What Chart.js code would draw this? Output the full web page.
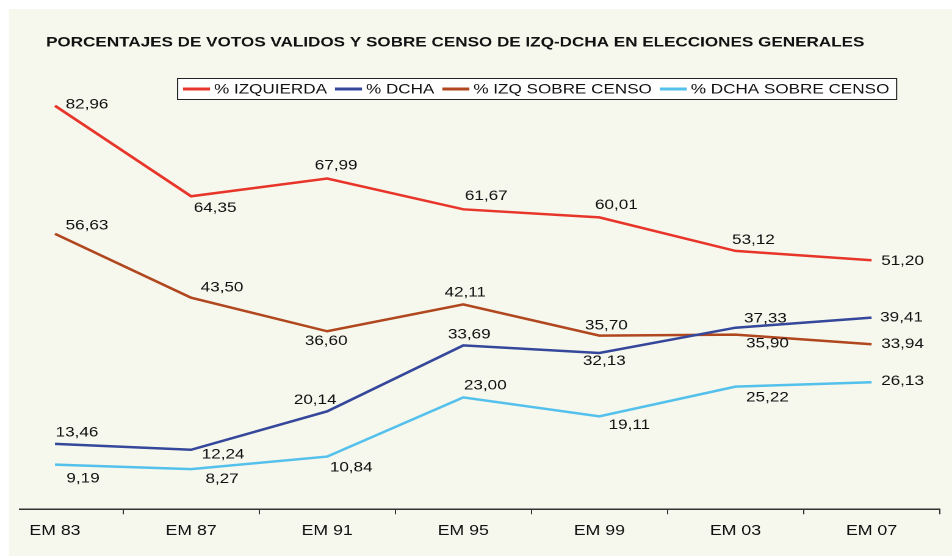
<!DOCTYPE html>
<html>
<head>
<meta charset="utf-8">
<script src="https://cdn.jsdelivr.net/npm/chart.js@4.4.0/dist/chart.umd.min.js"></script>
<style>
  html, body { margin: 0; padding: 0; background: #fff; overflow: hidden; }
  /* the original picture is stretched horizontally, so the canvas is drawn narrower and stretched back */
  #wrap { position: absolute; left: 0; top: 0; width: 780px; height: 558px; transform: scaleX(1.220513); transform-origin: 0 0; }
</style>
</head>
<body>
<div id="wrap"><canvas id="votosChart" width="780" height="558"></canvas></div>
<script>
const chartTitle = "PORCENTAJES DE VOTOS VALIDOS Y SOBRE CENSO DE IZQ-DCHA EN ELECCIONES GENERALES";
const categories = ["EM 83", "EM 87", "EM 91", "EM 95", "EM 99", "EM 03", "EM 07"];
const seriesNames = ["% IZQUIERDA", "% DCHA", "% IZQ SOBRE CENSO", "% DCHA SOBRE CENSO"];
const izquierda = [82.96, 64.35, 67.99, 61.67, 60.01, 53.12, 51.2];
const derecha = [13.46, 12.24, 20.14, 33.69, 32.13, 37.33, 39.41];
const izqCenso = [56.63, 43.5, 36.6, 42.11, 35.7, 35.9, 33.94];
const dchaCenso = [9.19, 8.27, 10.84, 23.0, 19.11, 25.22, 26.13];

const STRETCH = 952 / 780;
const FONT = "'Liberation Sans', Arial, sans-serif";
const px = (x) => x / STRETCH; // page x -> canvas x

// label offsets from each point, in page pixels [dx, dy]
const offsIzq = [[32, -1], [24, 12], [9, -13], [23, -13], [17, -12], [18, -11], [31, 1]];
const offsDcha = [[22, -11], [32, 5], [-12, -11], [6, -11], [5, 8], [30, -9], [30, 0]];
const offsIzqCenso = [[32, -8], [31, -10], [-1, 10], [2, -12], [7, -10], [32, 9], [31, 0]];
const offsDchaCenso = [[28, 14], [31, 10], [24, 11], [22, -12], [30, 9], [32, 11], [31, -1]];

function toPoints(values) {
  return values.map((v, i) => ({ x: i, y: v }));
}

function lineSet(label, values, color, offsets) {
  return {
    label: label,
    data: toPoints(values),
    borderColor: color,
    backgroundColor: color,
    borderWidth: 2.5,
    pointRadius: 0,
    tension: 0,
    labelOffsets: offsets,
  };
}

const backgroundPlugin = {
  id: "background",
  beforeDraw(chart) {
    const ctx = chart.ctx;
    ctx.save();
    ctx.fillStyle = "#f6f7ed";
    ctx.fillRect(px(9), 9, chart.width, 547);
    ctx.restore();
  },
};

const titleLegendPlugin = {
  id: "titleLegend",
  afterDraw(chart) {
    const ctx = chart.ctx;
    ctx.save();
    ctx.fillStyle = "#111";
    ctx.textBaseline = "middle";
    ctx.textAlign = "left";
    ctx.font = "bold 14px " + FONT;
    ctx.fillText(chartTitle, px(46), 42.5);

    // legend box
    ctx.fillStyle = "#fff";
    ctx.fillRect(px(177), 78, px(896) - px(177), 21);
    ctx.strokeStyle = "#222";
    ctx.lineWidth = 1;
    ctx.strokeRect(px(177) + 0.5, 78.5, px(896) - px(177), 21);

    ctx.font = "14px " + FONT;
    let x = px(183);
    chart.data.datasets.forEach((ds) => {
      ctx.strokeStyle = ds.borderColor;
      ctx.lineWidth = 3;
      ctx.beginPath();
      ctx.moveTo(x, 89);
      ctx.lineTo(x + px(27), 89);
      ctx.stroke();
      x += px(31);
      ctx.fillStyle = "#111";
      ctx.fillText(ds.label, x, 89.5);
      x += ctx.measureText(ds.label).width + px(8);
    });
    ctx.restore();
  },
};

const valueLabelPlugin = {
  id: "valueLabels",
  afterDatasetsDraw(chart) {
    const ctx = chart.ctx;
    ctx.save();
    ctx.font = "14px " + FONT;
    ctx.fillStyle = "#111";
    ctx.textAlign = "center";
    ctx.textBaseline = "middle";
    chart.data.datasets.forEach((ds, di) => {
      const meta = chart.getDatasetMeta(di);
      meta.data.forEach((pt, i) => {
        const off = ds.labelOffsets[i];
        const text = ds.data[i].y.toFixed(2).replace(".", ",");
        ctx.fillText(text, pt.x + px(off[0]), pt.y + off[1]);
      });
    });
    ctx.restore();
  },
};

const canvas = document.getElementById("votosChart").getContext("2d");

new Chart(canvas, {
  type: "line",
  data: {
    datasets: [
      lineSet(seriesNames[0], izquierda, "#e8352a", offsIzq),
      lineSet(seriesNames[1], derecha, "#35479b", offsDcha),
      lineSet(seriesNames[2], izqCenso, "#b0471e", offsIzqCenso),
      lineSet(seriesNames[3], dchaCenso, "#54c1ec", offsDchaCenso),
    ],
  },
  options: {
    responsive: false,
    animation: false,
    devicePixelRatio: 2,
    layout: {
      padding: { top: 71.5, left: px(20), right: 780 - px(940), bottom: 0 },
    },
    scales: {
      x: {
        type: "linear",
        min: -0.257,
        max: 6.503,
        afterBuildTicks: (axis) => {
          axis.ticks = categories.map((c, i) => ({ value: i }));
        },
        afterFit: (axis) => {
          axis.height = 48.7;
        },
        grid: {
          offset: true,
          drawOnChartArea: false,
          drawTicks: true,
          tickLength: 5,
          color: "#333",
          lineWidth: 1,
        },
        border: { display: true, color: "#333", width: 1.5 },
        ticks: {
          autoSkip: false,
          maxRotation: 0,
          padding: 8,
          color: "#111",
          font: { family: FONT, size: 14.5 },
          callback: (v) => categories[v] ?? "",
        },
      },
      y: { display: false, min: 0, max: 90 },
    },
    plugins: {
      legend: { display: false },
      title: { display: false },
      tooltip: { enabled: false },
    },
  },
  plugins: [backgroundPlugin, titleLegendPlugin, valueLabelPlugin],
});
</script>
</body>
</html>
